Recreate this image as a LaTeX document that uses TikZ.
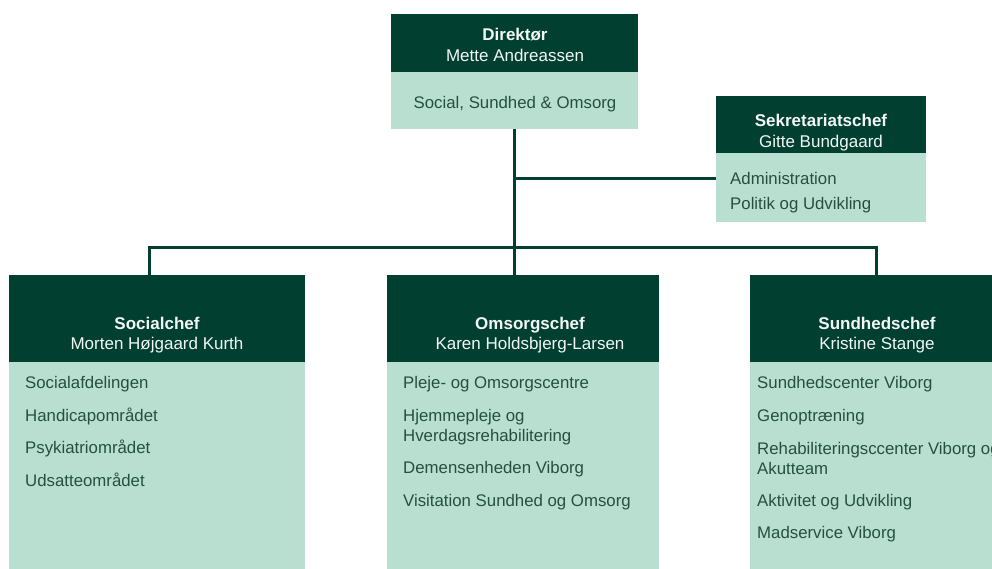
\documentclass[tikz,border=0pt]{standalone}
\usepackage{fontspec}
\setmainfont{Liberation Sans}
\usetikzlibrary{positioning}

\definecolor{dkgreen}{HTML}{013F31}
\definecolor{mint}{HTML}{B9DFD0}
\definecolor{unitgreen}{HTML}{24513F}
\definecolor{headtext}{HTML}{F2F7F4}

\begin{document}
\begin{tikzpicture}[x=1pt, y=-1pt,
    head/.style={fill=dkgreen, anchor=north west, inner sep=0, outer sep=0},
    body/.style={fill=mint, below=0pt of #1, inner sep=0, outer sep=0},
    chieftitle/.style={font=\fontsize{17}{20}\selectfont\bfseries, text=headtext, anchor=base, inner sep=0},
    person/.style={font=\fontsize{17}{20}\selectfont, text=headtext, anchor=base, inner sep=0},
    unittxt/.style={font=\fontsize{16.8}{20}\selectfont, text=unitgreen, anchor=base west, inner sep=0},
    conn/.style={draw=dkgreen, line width=3pt}]
    \useasboundingbox (0,0) rectangle (992,568);

    % Direktør
    \node[head, minimum width=247, minimum height=58] (dirhead) at (391,14) {};
    \node[body=dirhead, minimum width=247, minimum height=57] (dirbody) {};
    \node[chieftitle] (dirtitle) at (515,40) {Direktør};
    \node[person] (dirperson) at (515,61) {Mette Andreassen};
    \node[unittxt, anchor=base] (dirunit) at (515,108) {Social, Sundhed \& Omsorg};

    % Sekretariat
    \node[head, minimum width=210, minimum height=57] (sekhead) at (716,96) {};
    \node[body=sekhead, minimum width=210, minimum height=69] (sekbody) {};
    \node[chieftitle] (sektitle) at (821,126) {Sekretariatschef};
    \node[person] (sekperson) at (821,147) {Gitte Bundgaard};
    \node[unittxt] (sek1) at (730,184) {Administration};
    \node[unittxt] (sek2) at (730,209) {Politik og Udvikling};

    % Socialchef
    \node[head, minimum width=296, minimum height=87] (sochead) at (9,275) {};
    \node[body=sochead, minimum width=296, minimum height=238] (socbody) {};
    \node[chieftitle] (soctitle) at (157,329) {Socialchef};
    \node[person] (socperson) at (157,349) {Morten Højgaard Kurth};
    \foreach \y/\t [count=\i] in {388/Socialafdelingen, 421/Handicapområdet,
        453/Psykiatriområdet, 486/Udsatteområdet}
        \node[unittxt] (soc\i) at (25,\y) {\t};

    % Omsorgschef
    \node[head, minimum width=272, minimum height=87] (omshead) at (387,275) {};
    \node[body=omshead, minimum width=272, minimum height=238] (omsbody) {};
    \node[chieftitle] (omstitle) at (530,329) {Omsorgschef};
    \node[person] (omsperson) at (530,349) {Karen Holdsbjerg-Larsen};
    \foreach \y/\t [count=\i] in {388/Pleje- og Omsorgscentre, 421/Hjemmepleje og,
        441/Hverdagsrehabilitering, 473/Demensenheden Viborg, 506/Visitation Sundhed og Omsorg}
        \node[unittxt] (oms\i) at (403,\y) {\t};

    % Sundhedschef
    \node[head, minimum width=252, minimum height=87] (sundhead) at (750,275) {};
    \node[body=sundhead, minimum width=252, minimum height=238] (sundbody) {};
    \node[chieftitle] (sundtitle) at (877,329) {Sundhedschef};
    \node[person] (sundperson) at (877,349) {Kristine Stange};
    \foreach \y/\t [count=\i] in {388/Sundhedscenter Viborg, 421/Genoptræning,
        454/Rehabiliteringsccenter Viborg og, 474/Akutteam, 506/Aktivitet og Udvikling,
        538/Madservice Viborg}
        \node[unittxt] (sund\i) at (757,\y) {\t};

    % Lines
    \coordinate (sekjoin) at (514.5,178);
    \coordinate (busL) at (149.5,247);
    \coordinate (busR) at (876,247);
    \draw[conn] (dirbody.south) -- (dirbody.south |- omshead.north);
    \draw[conn] (sekjoin) -- (sekjoin -| sekbody.west);
    \draw[conn] (sochead.north -| busL) -- (busL) -- (busR) -- (sundhead.north -| busR);
\end{tikzpicture}
\end{document}
